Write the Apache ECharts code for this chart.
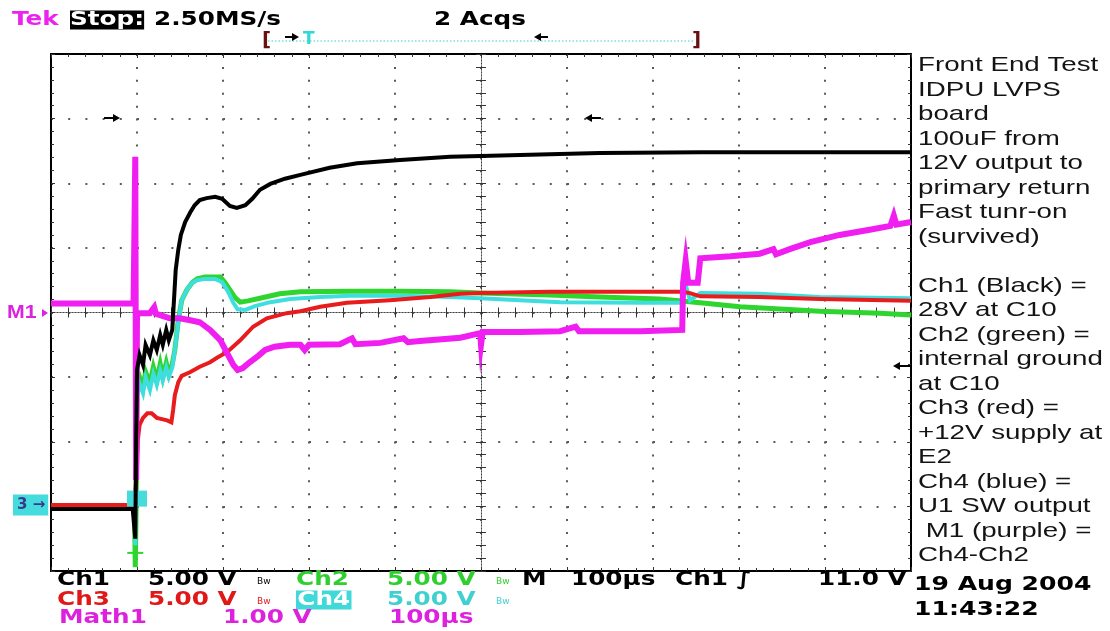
<!DOCTYPE html>
<html><head><meta charset="utf-8">
<script src="https://cdn.jsdelivr.net/npm/echarts@6.0.0/dist/echarts.min.js"></script>
<style>html,body{margin:0;padding:0;background:#fff}#c{width:1110px;height:631px}</style>
</head><body><div id="c"></div>
<script>
// time in microseconds (100 us/div), amplitude in screen divisions (center = 0)
const ch1Black = [[-500,-3.04],[-405,-3.04],[-402,-3.5],[-401,-2.0],[-400,-0.89],[-397,-0.66],[-393,-0.81],[-390,-0.50],[-385,-0.66],[-381,-0.43],[-377,-0.58],[-373,-0.35],[-370,-0.50],[-366,-0.27],[-363,-0.43],[-359,-0.27],[-357,0.19],[-355,0.66],[-352,0.97],[-349,1.20],[-344,1.40],[-338,1.55],[-333,1.66],[-327,1.74],[-319,1.77],[-309,1.79],[-301,1.76],[-292,1.65],[-284,1.62],[-274,1.66],[-266,1.76],[-257,1.90],[-245,1.99],[-228,2.07],[-210,2.13],[-176,2.24],[-144,2.31],[-94,2.36],[-36,2.41],[0,2.42],[80,2.45],[138,2.47],[255,2.48],[371,2.48],[500,2.48]];
const ch2Green = [[-500,-3.02],[-403,-3.02],[-402,-3.94],[-401,-3.0],[-400,-1.2],[-397,-1.0],[-393,-1.16],[-390,-0.92],[-385,-1.10],[-381,-0.85],[-377,-1.05],[-373,-0.80],[-370,-1.00],[-366,-0.78],[-363,-0.95],[-359,-0.80],[-356,-0.58],[-352,-0.12],[-348,0.19],[-342,0.35],[-336,0.46],[-330,0.52],[-321,0.55],[-309,0.55],[-303,0.55],[-298,0.47],[-292,0.35],[-286,0.23],[-280,0.16],[-271,0.18],[-257,0.22],[-234,0.29],[-210,0.32],[-152,0.33],[-94,0.33],[-36,0.32],[-1,0.30],[80,0.27],[138,0.24],[208,0.21],[255,0.15],[301,0.09],[394,0.02],[464,-0.01],[500,-0.04]];
const ch3Red = [[-500,-2.98],[-403,-2.98],[-401,-2.98],[-400,-2.44],[-399,-1.97],[-397,-1.74],[-393,-1.63],[-388,-1.56],[-383,-1.56],[-377,-1.63],[-371,-1.65],[-365,-1.67],[-360,-1.70],[-358,-1.51],[-356,-1.28],[-352,-1.08],[-348,-0.98],[-338,-0.92],[-327,-0.84],[-315,-0.77],[-307,-0.70],[-295,-0.61],[-280,-0.43],[-265,-0.22],[-249,-0.09],[-226,-0.01],[-210,0.02],[-187,0.09],[-156,0.15],[-106,0.19],[-59,0.24],[-24,0.29],[-1,0.30],[80,0.32],[162,0.32],[234,0.32],[243,0.30],[255,0.25],[324,0.24],[394,0.21],[500,0.18]];
const ch4Cyan = [[-500,-3.02],[-403,-3.02],[-402,-3.6],[-400,-1.3],[-397,-1.1],[-393,-1.25],[-390,-1.0],[-385,-1.2],[-381,-0.95],[-377,-1.12],[-373,-0.9],[-370,-1.05],[-366,-0.85],[-363,-1.0],[-359,-0.85],[-356,-0.58],[-352,-0.15],[-348,0.19],[-342,0.35],[-336,0.46],[-330,0.50],[-321,0.52],[-309,0.52],[-301,0.47],[-294,0.32],[-288,0.15],[-283,0.05],[-274,0.04],[-263,0.10],[-245,0.16],[-222,0.21],[-187,0.24],[-152,0.26],[-94,0.26],[-36,0.24],[-1,0.22],[45,0.19],[92,0.16],[185,0.15],[234,0.15],[238,0.43],[243,0.19],[255,0.30],[324,0.29],[394,0.24],[500,0.22]];
const math1Magenta = [[-500,0.14],[-404,0.14],[-403,0.14],[-402,2.41],[-401,-2.59],[-400,-0.05],[-397,-0.01],[-385,-0.01],[-380,0.08],[-378,-0.02],[-373,-0.04],[-362,-0.09],[-350,-0.09],[-338,-0.12],[-327,-0.15],[-315,-0.27],[-303,-0.43],[-294,-0.66],[-288,-0.81],[-283,-0.89],[-277,-0.86],[-269,-0.77],[-259,-0.67],[-251,-0.58],[-240,-0.53],[-222,-0.50],[-210,-0.50],[-205,-0.58],[-200,-0.50],[-164,-0.49],[-150,-0.40],[-146,-0.49],[-117,-0.47],[-90,-0.40],[-85,-0.46],[-71,-0.44],[-24,-0.39],[-1,-0.32],[0,-0.50],[2,-0.30],[45,-0.30],[92,-0.29],[110,-0.22],[114,-0.29],[138,-0.29],[185,-0.29],[234,-0.27],[235,0.46],[238,0.80],[241,0.46],[252,0.46],[255,0.84],[290,0.87],[324,0.91],[340,0.98],[343,0.90],[359,0.98],[383,1.09],[417,1.20],[452,1.28],[476,1.34],[480,1.50],[483,1.36],[500,1.40]];
const tickStep = 100;   // us per division
const divStep = 1;

const chart = echarts.init(document.getElementById('c'), null, {renderer:'canvas'});
const xBase = {type:'value', min:-500, max:500, interval:tickStep, axisLabel:{show:false}, splitLine:{show:false}};
const yBase = {type:'value', min:-4, max:4, interval:divStep, axisLabel:{show:false}, splitLine:{show:false}};
const tickCol = '#333';
function series(name, data, color, width, z) {
  return {type:'line', name, data, symbol:'none', showSymbol:false, z, animation:false,
    lineStyle:{color, width, join:'miter'}, xAxisIndex:0, yAxisIndex:0};
}
const sCyan = series('Ch4', ch4Cyan, '#3fdede', 4, 3);
sCyan.markPoint = {symbol:'rect', animation:false, label:{show:false},
  data:[{coord:[-400,-2.88], symbolSize:[20,16], itemStyle:{color:'#46dcdc'}}]};
const sGreen = series('Ch2', ch2Green, '#2fd52f', 5, 2);
sGreen.markPoint = {symbol:'rect', animation:false, label:{show:false},
  data:[{coord:[-402,-3.72], symbolSize:[16,2], itemStyle:{color:'#2fd52f'}}]};

function T(x, y, text, color, opt) {
  opt = opt || {};
  const st = {text, fill:color, font: opt.font || 'bold 19px "DejaVu Sans"', align:'left', verticalAlign:'middle'};
  if (opt.bg) { st.backgroundColor = opt.bg; st.padding = opt.pad || [1,1]; }
  return {type:'text', x, y, scaleX: opt.sx || 1.3, z:100, style: st};
}
// arrow glyph: dir +1 = right, -1 = left; x = tail start
function arrow(x, y, dir, len, color) {
  const tip = x + dir*len;
  return [
    {type:'line', z:95, shape:{x1:x, y1:y, x2:tip - dir*5, y2:y}, style:{stroke:color, lineWidth:2}},
    {type:'polygon', z:95, shape:{points:[[tip,y],[tip-dir*7,y-4],[tip-dir*7,y+4]]}, style:{fill:color}}
  ];
}
const rp = '21px "Liberation Sans"';
const rightLines = ['Front End Test','IDPU LVPS','board','100uF from','12V output to','primary return','Fast tunr-on','(survived)','','Ch1 (Black) =','28V at C10','Ch2 (green) =','internal ground','at C10','Ch3 (red) =','+12V supply at','E2','Ch4 (blue) =','U1 SW output',' M1 (purple) =','Ch4-Ch2'];
const gfx = [];
rightLines.forEach((s,i)=>{ if(s) gfx.push(T(918, 65.5+24.5*i, s, '#141414', {font:rp, sx:1.32})); });
// top status line
gfx.push(T(12,20,'Tek','#ee22ee'));
gfx.push(T(70,20,'Stop:','#fff',{bg:'#000',pad:[0,0]}));
gfx.push(T(154,20,'2.50MS/s','#000'));
gfx.push(T(434,20,'2 Acqs','#000'));
gfx.push({type:'line', z:90, shape:{x1:268,y1:41,x2:693,y2:41}, style:{stroke:'#40d0d0', lineWidth:1.2, lineDash:[1.5,2]}});
gfx.push(T(262,41,'[','#6a1010',{font:'bold 20px "DejaVu Sans"', sx:1}));
gfx.push(T(692,41,']','#6a1010',{font:'bold 20px "DejaVu Sans"', sx:1}));
gfx.push(...arrow(285,37,1,14,'#000'));
gfx.push(T(303,40,'T','#30d8d8',{font:'bold 17px "DejaVu Sans"', sx:1}));
gfx.push(...arrow(548,37,-1,14,'#000'));
// graticule annotations
gfx.push(...arrow(104,118,1,16,'#000'));
gfx.push(...arrow(601,118,-1,16,'#000'));
gfx.push(...arrow(910,366,-1,17,'#000'));
gfx.push(T(7,313,'M1','#dd22dd',{font:'bold 19px "Liberation Sans"', sx:1.12}));
gfx.push({type:'polygon', z:95, shape:{points:[[48,313],[42,309],[42,317]]}, style:{fill:'#dd22dd'}});
gfx.push(T(13,505,'3 →','#3a3a8a',{font:'bold 15px "DejaVu Sans"', sx:1.0, bg:'#44dcdc', pad:[3,3,3,4]}));
// bottom readouts
const r1=580, r2=600, r3=618;
gfx.push(T(57,r1,'Ch1','#000'));
gfx.push(T(148,r1,'5.00 V','#000'));
gfx.push(T(257,r1+2,'Bw','#000',{font:'9px "DejaVu Sans"', sx:1}));
gfx.push(T(296,r1,'Ch2','#2fcf2f'));
gfx.push(T(387,r1,'5.00 V','#2fcf2f'));
gfx.push(T(496,r1+2,'Bw','#2fcf2f',{font:'9px "DejaVu Sans"', sx:1}));
gfx.push(T(522,r1,'M','#000'));
gfx.push(T(571,r1,'100µs','#000'));
gfx.push(T(675,r1,'Ch1 ∫','#000'));
gfx.push(T(818,r1,'11.0 V','#000'));
gfx.push(T(57,r2,'Ch3','#e01818'));
gfx.push(T(148,r2,'5.00 V','#e01818'));
gfx.push(T(257,r2+2,'Bw','#e01818',{font:'9px "DejaVu Sans"', sx:1}));
gfx.push(T(296,r2,'Ch4','#fff',{bg:'#40d8d8',pad:[0,1]}));
gfx.push(T(387,r2,'5.00 V','#40d0d0'));
gfx.push(T(496,r2+2,'Bw','#40d0d0',{font:'9px "DejaVu Sans"', sx:1}));
gfx.push(T(59,r3,'Math1','#dd22dd'));
gfx.push(T(223,r3,'1.00 V','#dd22dd'));
gfx.push(T(389,r3,'100µs','#dd22dd'));
gfx.push(T(914,585,'19 Aug 2004','#000',{sx:1.32}));
gfx.push(T(914,610,'11:43:22','#000',{sx:1.32}));

const gridDot = '#5a5a5a';
chart.setOption({
  animation:false,
  backgroundColor:'#fff',
  grid:{left:51, right:199, top:54, bottom:60, show:false},
  xAxis:[
    Object.assign({}, xBase, {position:'bottom', axisLine:{onZero:true, lineStyle:{color:'#444', width:1, type:[1,2]}},
      axisTick:{show:true, inside:true, length:5, lineStyle:{color:tickCol}},
      minorTick:{show:true, splitNumber:5, length:5, lineStyle:{color:tickCol}},
      splitLine:{show:true, lineStyle:{color:gridDot, width:2, type:[2,10.92]}}}),
    Object.assign({}, xBase, {position:'bottom', axisLine:{onZero:true, lineStyle:{color:'#444', width:1, type:[1,2]}},
      axisTick:{show:true, inside:false, length:5, lineStyle:{color:tickCol}},
      minorTick:{show:true, splitNumber:5, length:5, lineStyle:{color:tickCol}}}),
    Object.assign({}, xBase, {position:'top', axisLine:{onZero:false, lineStyle:{color:'#000', width:2}},
      axisTick:{show:true, inside:true, length:4, lineStyle:{color:tickCol}},
      minorTick:{show:true, splitNumber:5, length:3, lineStyle:{color:tickCol}}}),
    Object.assign({}, xBase, {position:'bottom', axisLine:{onZero:false, lineStyle:{color:'#000', width:2}},
      axisTick:{show:true, inside:true, length:4, lineStyle:{color:tickCol}},
      minorTick:{show:true, splitNumber:5, length:3, lineStyle:{color:tickCol}}})
  ],
  yAxis:[
    Object.assign({}, yBase, {position:'left', axisLine:{onZero:true, lineStyle:{color:'#444', width:1, type:[1,2]}},
      axisTick:{show:true, inside:true, length:5, lineStyle:{color:tickCol}},
      minorTick:{show:true, splitNumber:5, length:5, lineStyle:{color:tickCol}},
      splitLine:{show:true, lineStyle:{color:gridDot, width:2, type:[2,15.2]}}}),
    Object.assign({}, yBase, {position:'left', axisLine:{onZero:true, lineStyle:{color:'#444', width:1, type:[1,2]}},
      axisTick:{show:true, inside:false, length:5, lineStyle:{color:tickCol}},
      minorTick:{show:true, splitNumber:5, length:5, lineStyle:{color:tickCol}}}),
    Object.assign({}, yBase, {position:'left', axisLine:{onZero:false, lineStyle:{color:'#000', width:2}},
      axisTick:{show:true, inside:true, length:4, lineStyle:{color:tickCol}},
      minorTick:{show:true, splitNumber:5, length:3, lineStyle:{color:tickCol}}}),
    Object.assign({}, yBase, {position:'right', axisLine:{onZero:false, lineStyle:{color:'#000', width:2}},
      axisTick:{show:true, inside:true, length:4, lineStyle:{color:tickCol}},
      minorTick:{show:true, splitNumber:5, length:3, lineStyle:{color:tickCol}}})
  ],
  series:[
    sGreen,
    sCyan,
    series('Ch3', ch3Red, '#e81c1c', 4, 4),
    series('Math1', math1Magenta, '#f01ef0', 6, 5),
    series('Ch1', ch1Black, '#000', 4, 6)
  ],
  graphic: gfx
});
</script>
</body></html>
